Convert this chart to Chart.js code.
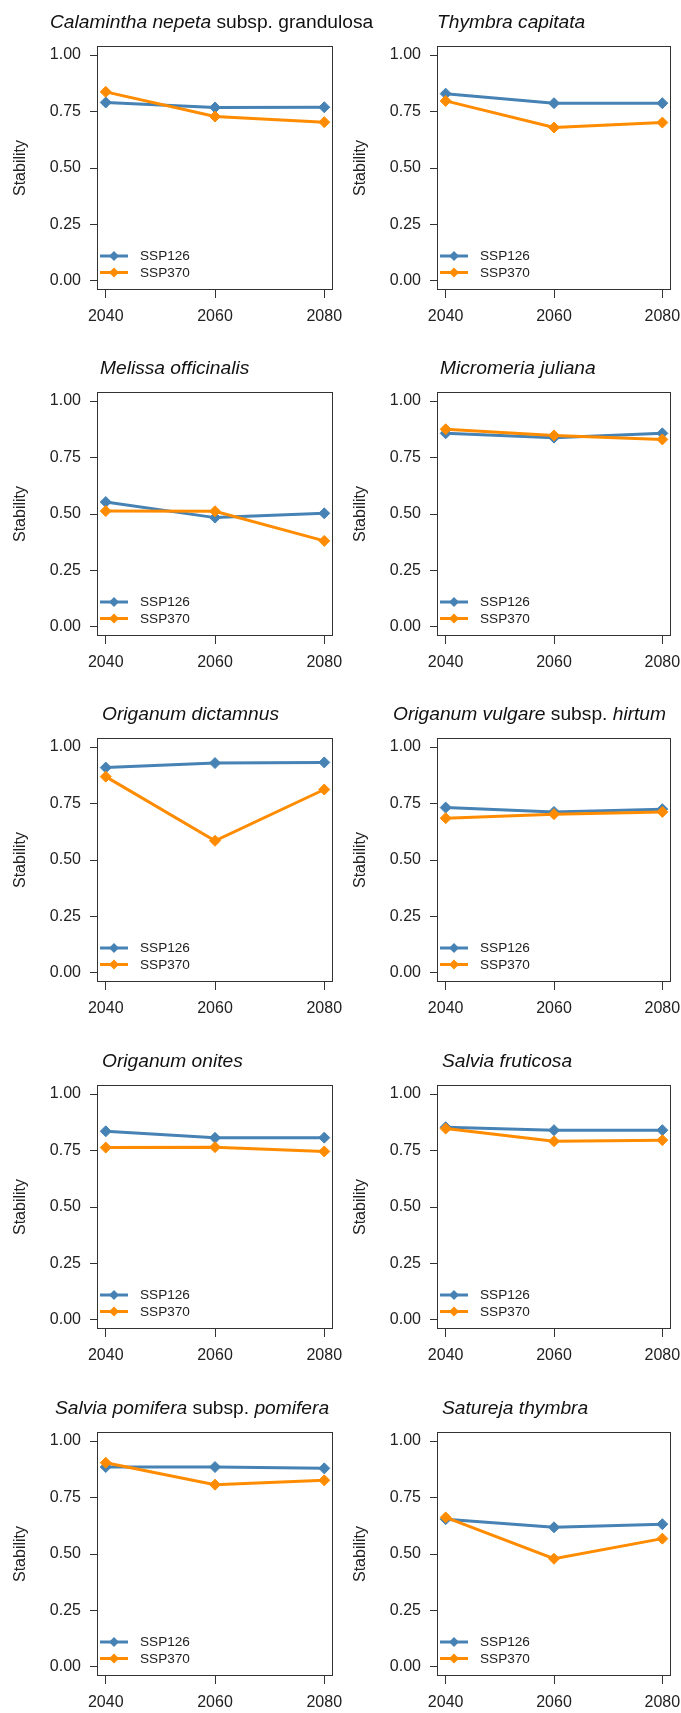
<!DOCTYPE html>
<html>
<head>
<meta charset="utf-8">
<script src="https://cdn.jsdelivr.net/npm/chart.js@4.4.1/dist/chart.umd.min.js"></script>
<style>
  html, body { margin: 0; padding: 0; background: #fff; overflow: hidden; }
  #page { position: relative; width: 681px; height: 1713px; }
  .panel { position: absolute; }
  .panel canvas { position: absolute; left: 0; top: 0; }
  .titulo { position: absolute; top: 10px; font: 19.2px "Liberation Sans", Arial, sans-serif; line-height: 24px; color: #111; white-space: nowrap; }
</style>
</head>
<body>
<div id="page"></div>
<script>
// Datos
var years = [2040, 2060, 2080];
var yTicks = [0, 0.25, 0.5, 0.75, 1];
var scenarios = ['SSP126', 'SSP370'];
var species = [
    '<i>Calamintha nepeta</i> subsp. grandulosa',
    '<i>Thymbra capitata</i>',
    '<i>Melissa officinalis</i>',
    '<i>Micromeria juliana</i>',
    '<i>Origanum dictamnus</i>',
    '<i>Origanum vulgare</i> subsp. <i>hirtum</i>',
    '<i>Origanum onites</i>',
    '<i>Salvia fruticosa</i>',
    '<i>Salvia pomifera</i> subsp. <i>pomifera</i>',
    '<i>Satureja thymbra</i>'
];
var ssp126 = [
    [0.790, 0.768, 0.769],
    [0.829, 0.787, 0.787],
    [0.553, 0.484, 0.503],
    [0.857, 0.838, 0.857],
    [0.909, 0.929, 0.932],
    [0.732, 0.713, 0.725],
    [0.835, 0.806, 0.807],
    [0.853, 0.840, 0.840],
    [0.885, 0.885, 0.879],
    [0.654, 0.618, 0.632]
];
var ssp370 = [
    [0.837, 0.728, 0.703],
    [0.797, 0.679, 0.701],
    [0.513, 0.512, 0.381],
    [0.875, 0.848, 0.830],
    [0.869, 0.585, 0.812],
    [0.685, 0.703, 0.713],
    [0.763, 0.765, 0.746],
    [0.847, 0.791, 0.796],
    [0.904, 0.807, 0.826],
    [0.662, 0.479, 0.568]
];

var colores = ['#4682B4', '#FF8C00'];
var fuente = '"Liberation Sans", Arial, sans-serif';
var texto = '#222';

// posiciones de los paneles
var panelTop = [0, 346, 692, 1039, 1386];
var colLeft = [0, 340];
var colWidth = [350, 341];
var boxRight = [333, 331];
var titleLeft = [50, 97, 100, 100, 102, 53, 102, 102, 55, 102];

// diamante (pch 18)
function diamante(ctx, x, y, r) {
    ctx.beginPath();
    ctx.moveTo(x, y - r);
    ctx.lineTo(x + r, y);
    ctx.lineTo(x, y + r);
    ctx.lineTo(x - r, y);
    ctx.closePath();
    ctx.fill();
}

var cajaPlugin = {
    id: 'caja',
    afterDraw: function(chart) {
        var a = chart.chartArea, ctx = chart.ctx;
        ctx.save();
        ctx.strokeStyle = '#333';
        ctx.lineWidth = 1;
        ctx.strokeRect(a.left + 0.5, a.top + 0.5, a.right - a.left - 1, a.bottom - a.top - 1);
        ctx.restore();
    }
};

var leyendaPlugin = {
    id: 'leyenda',
    afterDraw: function(chart) {
        var a = chart.chartArea, ctx = chart.ctx;
        var sets = chart.data.datasets;
        ctx.save();
        for (var i = 0; i < sets.length; i++) {
            var y = a.bottom - 34 + i * 16.5;
            ctx.strokeStyle = sets[i].borderColor;
            ctx.fillStyle = sets[i].borderColor;
            ctx.lineWidth = 3;
            ctx.beginPath();
            ctx.moveTo(a.left + 3, y);
            ctx.lineTo(a.left + 31, y);
            ctx.stroke();
            diamante(ctx, a.left + 17, y, 5);
            ctx.fillStyle = texto;
            ctx.font = '13.6px ' + fuente;
            ctx.textBaseline = 'middle';
            ctx.textAlign = 'left';
            ctx.fillText(sets[i].label, a.left + 43, y + 0.5);
        }
        ctx.restore();
    }
};

document.addEventListener('DOMContentLoaded', function() {
    var page = document.getElementById('page');
    for (var k = 0; k < species.length; k++) {
        drawPanel(page, k);
    }
});

function drawPanel(page, k) {
    var row = Math.floor(k / 2), col = k % 2;
    var div = document.createElement('div');
    div.className = 'panel';
    div.style.left = colLeft[col] + 'px';
    div.style.top = panelTop[row] + 'px';
    div.style.width = colWidth[col] + 'px';
    div.style.height = '330px';

    var canvas = document.createElement('canvas');
    canvas.width = colWidth[col];
    canvas.height = 330;
    div.appendChild(canvas);

    var t = document.createElement('div');
    t.className = 'titulo';
    t.style.left = titleLeft[k] + 'px';
    t.innerHTML = species[k];
    div.appendChild(t);
    page.appendChild(div);

    var series = [ssp126[k], ssp370[k]];
    var datasets = scenarios.map(function(name, i) {
        return {
            label: name,
            data: years.map(function(yr, j) { return { x: yr, y: series[i][j] }; }),
            borderColor: colores[i],
            backgroundColor: colores[i],
            borderWidth: 3,
            pointStyle: 'rectRot',
            pointRadius: 5.5,
            pointBorderWidth: 1,
            pointBorderColor: colores[i],
            pointBackgroundColor: colores[i],
            order: i === 0 ? 1 : 0
        };
    });

    new Chart(canvas.getContext('2d'), {
        type: 'line',
        data: { datasets: datasets },
        options: {
            responsive: false,
            animation: false,
            layout: { padding: { top: 46, right: colWidth[col] - boxRight[col], bottom: 0, left: 0 } },
            plugins: { legend: { display: false }, title: { display: false }, tooltip: { enabled: false } },
            scales: {
                x: {
                    type: 'linear',
                    min: 2038.4,
                    max: 2081.6,
                    afterBuildTicks: function(s) { s.ticks = years.map(function(v) { return { value: v }; }); },
                    afterFit: function(s) { s.height = 40; s.paddingLeft = 0; s.paddingRight = 0; },
                    grid: { drawOnChartArea: false, drawTicks: true, tickLength: 8, color: '#333' },
                    border: { display: false },
                    ticks: { padding: 9, color: texto, font: { family: fuente, size: 16 }, maxRotation: 0,
                             callback: function(v) { return String(v); } }
                },
                y: {
                    min: -0.04,
                    max: 1.04,
                    afterBuildTicks: function(s) { s.ticks = yTicks.map(function(v) { return { value: v }; }); },
                    afterFit: function(s) { s.width = 97; s.paddingTop = 0; s.paddingBottom = 0; },
                    grid: { drawOnChartArea: false, drawTicks: true, tickLength: 7, color: '#333' },
                    border: { display: false },
                    ticks: { padding: 9, color: texto, font: { family: fuente, size: 16 },
                             callback: function(v) { return v.toFixed(2); } },
                    title: { display: true, text: 'Stability', color: texto, font: { family: fuente, size: 16 },
                             padding: { top: 11, bottom: 0 } }
                }
            }
        },
        plugins: [cajaPlugin, leyendaPlugin]
    });
}
</script>
</body>
</html>
